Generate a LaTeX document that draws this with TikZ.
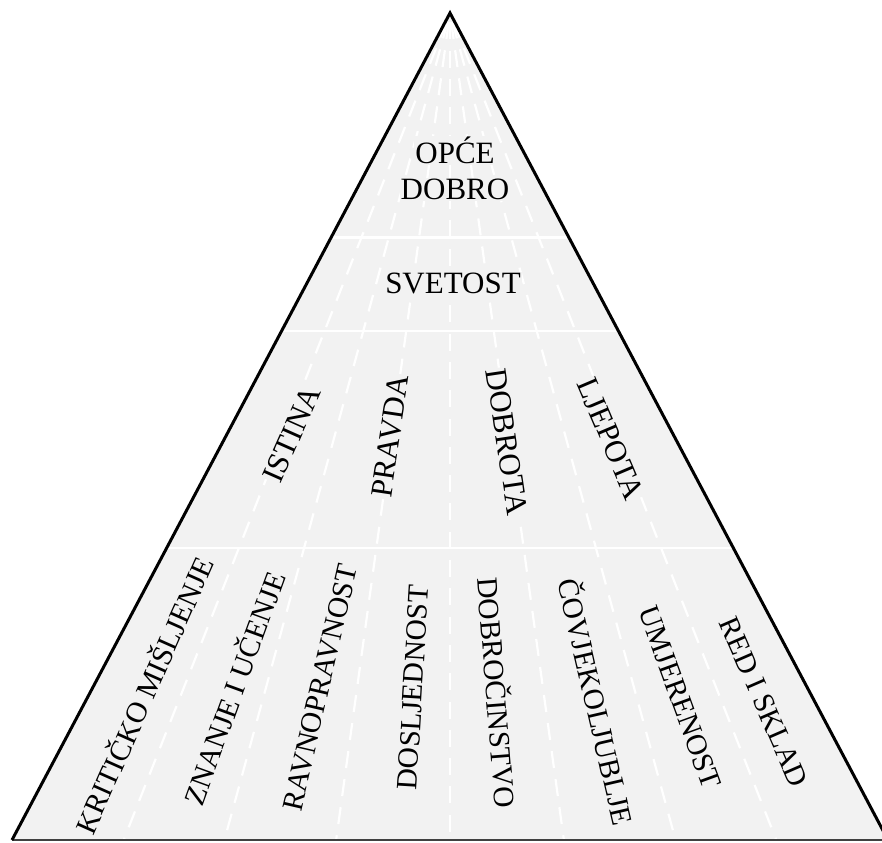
\documentclass[tikz,border=0pt]{standalone}
\usepackage{fontspec}
\setmainfont{Liberation Serif}
\usetikzlibrary{calc}
\definecolor{pyr}{HTML}{F2F2F2}
\definecolor{baseln}{HTML}{404040}
\tikzset{
  pyrfill/.style={fill=pyr},
  ray/.style={draw=white, line width=2.2pt, dash pattern=on 17pt off 11.3pt, dash phase=19pt},
  tierline/.style={draw=white, line width=2.5pt},
  edge/.style={draw=black, line width=3pt, line join=miter},
  baseedge/.style={draw=baseln, line width=1.5pt},
  lbl/.style={fill=pyr, inner sep=1pt, font=\fontsize{31}{37}\selectfont},
  rlbl/.style={lbl, text height=20.5pt, text depth=0pt},
  blbl/.style={fill=pyr, inner sep=1pt, font=\fontsize{29.5}{35}\selectfont, text height=19.5pt, text depth=0pt}
}
\begin{document}
\begin{tikzpicture}[x=1pt,y=-1pt]
\useasboundingbox (0,0) rectangle (882,842);
\clip (0,0) rectangle (882,842);
\coordinate (A) at (450,13);
\coordinate (BL) at (12,840);
\coordinate (BR) at (888,840);
\fill[pyrfill] (A) -- (BL) -- (BR) -- cycle;
% radial dashed lines
\foreach \f [count=\i] in {-0.745,-0.515,-0.26,0,0.26,0.515,0.745} {
  \coordinate (r\i) at ({450+\f*438},840);
  \draw[ray] (A) -- (r\i);
}
% tier separators
\foreach \t [count=\i] in {0.2715,0.3845,0.6469} {
  \coordinate (hl\i) at ($(A)!\t!(BL)$);
  \coordinate (hr\i) at ($(A)!\t!(BR)$);
  \draw[tierline] (hl\i) -- (hr\i);
}
% outline
\draw[baseedge] (BL) -- (BR);
\draw[edge] (BL) -- (A) -- (BR);
% tier 1 and 2
\node[lbl, anchor=base] (opce) at (455,163.5) {OPĆE};
\node[lbl, anchor=base] (dobro) at (455,200) {DOBRO};
\node[lbl, anchor=base] (svetost) at (453,293.5) {SVETOST};
% tier 3
\node[rlbl, rotate=66] (istina) at (292,434) {ISTINA};
\node[rlbl, rotate=81.5] (pravda) at (390,436) {PRAVDA};
\node[rlbl, rotate=-81.5] (dobrota) at (507,442) {DOBROTA};
\node[rlbl, rotate=-67] (ljepota) at (611,439) {LJEPOTA};
% tier 4
\node[blbl, rotate=66] (kriticko) at (145,695.5) {KRITIČKO MIŠLJENJE};
\node[blbl, rotate=70] (znanje) at (235,689) {ZNANJE I UČENJE};
\node[blbl, rotate=77] (ravno) at (320,687.5) {RAVNOPRAVNOST};
\node[blbl, rotate=86.5] (dosljed) at (413,687.5) {DOSLJEDNOST};
\node[blbl, rotate=-85.5] (dobrocin) at (496,693) {DOBROČINSTVO};
\node[blbl, rotate=-77] (covjek) at (595,702) {ČOVJEKOLJUBLJE};
\node[blbl, rotate=-70] (umjer) at (680,697.5) {UMJERENOST};
\node[blbl, rotate=-66.5] (redsklad) at (764,702) {RED I SKLAD};
\end{tikzpicture}
\end{document}
